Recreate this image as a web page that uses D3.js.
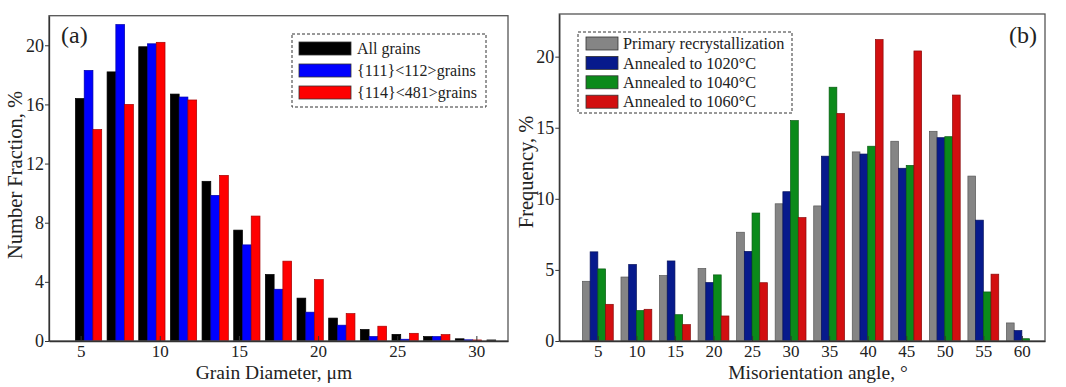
<!DOCTYPE html>
<html>
<head>
<meta charset="utf-8">
<script src="https://cdn.jsdelivr.net/npm/d3@7"></script>
<style>
  body { margin: 0; background: #fff; }
  svg text { font-family: "Liberation Serif", "Times New Roman", serif; fill: #222; }
  .axis path, .axis line { stroke: #333; }
</style>
</head>
<body>
<svg id="chart" width="1066" height="387"></svg>
<script>
// ---- panel (a) data ----
var grainBins = [5.5, 7.5, 9.5, 11.5, 13.5, 15.5, 17.5, 19.5, 21.5, 23.5, 25.5, 27.5, 29.5, 31.5];
var allGrains = [16.4, 18.2, 19.9, 16.7, 10.8, 7.5, 4.5, 2.9, 1.55, 0.78, 0.45, 0.3, 0.15, 0.07];
var grains111 = [18.3, 21.4, 20.1, 16.5, 9.85, 6.5, 3.5, 1.95, 1.07, 0.3, 0.12, 0.3, 0.08, 0];
var grains114 = [14.3, 16.0, 20.2, 16.3, 11.2, 8.45, 5.4, 4.15, 1.85, 1.0, 0.52, 0.43, 0.07, 0];
var seriesA = ["All grains", "{111}<112>grains", "{114}<481>grains"];
var colorsA = ["#000000", "#0000ff", "#ff0000"];
var ticksA_x = [5, 10, 15, 20, 25, 30];
var ticksA_y = [0, 4, 8, 12, 16, 20];

// ---- panel (b) data ----
var angles = [5, 10, 15, 20, 25, 30, 35, 40, 45, 50, 55, 60];
var primaryRecryst = [4.2, 4.5, 4.6, 5.1, 7.65, 9.65, 9.5, 13.3, 14.05, 14.75, 11.6, 1.27];
var annealed1020 = [6.27, 5.38, 5.63, 4.11, 6.3, 10.5, 13.0, 13.15, 12.15, 14.3, 8.5, 0.73];
var annealed1040 = [5.07, 2.14, 1.85, 4.65, 9.0, 15.5, 17.85, 13.7, 12.35, 14.37, 3.45, 0.16];
var annealed1060 = [2.58, 2.23, 1.15, 1.76, 4.1, 8.68, 16.0, 21.2, 20.4, 17.3, 4.7, 0];
var seriesB = ["Primary recrystallization", "Annealed to 1020\u00b0C", "Annealed to 1040\u00b0C", "Annealed to 1060\u00b0C"];
var colorsB = ["#858585", "#071a8c", "#0b8a1a", "#d20f10"];
var ticksB_y = [0, 5, 10, 15, 20];

var svg = d3.select("#chart");

function drawPanel(opt) {
    var g = svg.append("g");
    var x = d3.scaleLinear().domain(opt.xDomain).range([opt.left, opt.right]);
    var y = d3.scaleLinear().domain(opt.yDomain).range([opt.bottom, opt.top]);

    var clipId = "clip" + opt.id;
    svg.append("clipPath").attr("id", clipId)
        .append("rect")
        .attr("x", opt.left).attr("y", opt.top)
        .attr("width", opt.right - opt.left).attr("height", opt.bottom - opt.top);

    var nSeries = opt.series.length;
    var barW = opt.groupWidth / nSeries;
    var bars = g.append("g").attr("clip-path", "url(#" + clipId + ")");

    opt.values.forEach(function (vals, s) {
        bars.selectAll(".bar" + s)
            .data(vals)
            .enter().append("rect")
            .attr("class", "bar" + s)
            .attr("x", function (d, i) {
                return x(opt.cats[i] - opt.groupWidth / 2 + s * barW);
            })
            .attr("width", x(barW) - x(0))
            .attr("y", function (d) { return y(d); })
            .attr("height", function (d) { return y(0) - y(d); })
            .attr("fill", opt.colors[s])
            .attr("stroke", d3.color(opt.colors[s]).darker(1.2))
            .attr("stroke-width", 0.7);
    });

    // frame
    g.append("rect")
        .attr("x", opt.left).attr("y", opt.top)
        .attr("width", opt.right - opt.left).attr("height", opt.bottom - opt.top)
        .attr("fill", "none").attr("stroke", "#555").attr("stroke-width", 1.3);

    var xAxis = d3.axisBottom(x).tickValues(opt.xTicks)
        .tickSizeInner(-5).tickSizeOuter(0).tickPadding(4);
    var yAxis = d3.axisLeft(y).tickValues(opt.yTicks)
        .tickSizeInner(4).tickSizeOuter(0).tickPadding(1);

    var gx = g.append("g").attr("class", "axis")
        .attr("transform", "translate(0," + opt.bottom + ")")
        .call(xAxis);
    gx.select(".domain").attr("stroke-width", 1.3);
    gx.selectAll("text").style("font-size", "17px").attr("fill", "#222");

    var gy = g.append("g").attr("class", "axis")
        .attr("transform", "translate(" + opt.left + ",0)")
        .call(yAxis);
    gy.select(".domain").attr("stroke-width", 1.3);
    gy.selectAll("text").style("font-size", "18px").attr("fill", "#222");

    // axis titles
    g.append("text")
        .attr("x", opt.xTitleX).attr("y", 378.5)
        .style("text-anchor", "middle")
        .style("font-size", "19.5px")
        .text(opt.xTitle);

    g.append("text")
        .attr("transform", "translate(" + opt.yTitleX + "," + opt.yTitleY + ") rotate(-90)")
        .style("text-anchor", "middle")
        .style("font-size", "20.5px")
        .text(opt.yTitle);

    // panel label
    g.append("text")
        .attr("x", opt.labelX).attr("y", 43)
        .style("font-size", "24px")
        .text(opt.label);

    // legend
    var L = opt.legend;
    g.append("rect")
        .attr("x", L.x).attr("y", L.y)
        .attr("width", L.w).attr("height", L.h)
        .attr("fill", "#fff")
        .attr("stroke", "#333").attr("stroke-width", 1)
        .attr("stroke-dasharray", "3,2");

    var items = g.selectAll(".leg" + opt.id)
        .data(opt.series)
        .enter().append("g")
        .attr("class", "leg" + opt.id)
        .attr("transform", function (d, i) {
            return "translate(" + L.swX + "," + (L.firstY + i * L.step) + ")";
        });
    items.append("rect")
        .attr("x", 0).attr("y", -L.swH / 2)
        .attr("width", L.swW).attr("height", L.swH)
        .attr("fill", function (d, i) { return opt.colors[i]; })
        .attr("stroke", "#333").attr("stroke-width", 0.8);
    items.append("text")
        .attr("x", L.swW + L.gap).attr("y", 0)
        .attr("dy", "0.35em")
        .style("font-size", L.font)
        .text(function (d) { return d; });
}

drawPanel({
    id: "a",
    left: 49, right: 508, top: 15.7, bottom: 341,
    xDomain: [3, 32], yDomain: [0, 22],
    xTicks: ticksA_x, yTicks: ticksA_y,
    cats: grainBins,
    values: [allGrains, grains111, grains114],
    series: seriesA, colors: colorsA,
    groupWidth: 1.66,
    xTitle: "Grain Diameter, \u03bcm", xTitleX: 274,
    yTitle: "Number Fraction, %", yTitleX: 22, yTitleY: 175,
    label: "(a)", labelX: 61,
    legend: { x: 292, y: 34, w: 194, h: 73, swX: 299, swW: 52, swH: 13,
              firstY: 48.5, step: 22, gap: 6, font: "16px" }
});

drawPanel({
    id: "b",
    left: 559.3, right: 1045, top: 14, bottom: 341,
    xDomain: [0, 63], yDomain: [0, 23],
    xTicks: angles, yTicks: ticksB_y,
    cats: angles,
    values: [primaryRecryst, annealed1020, annealed1040, annealed1060],
    series: seriesB, colors: colorsB,
    groupWidth: 4,
    xTitle: "Misorientation angle, \u00b0", xTitleX: 818,
    yTitle: "Frequency, %", yTitleX: 533, yTitleY: 172,
    label: "(b)", labelX: 1009,
    legend: { x: 578, y: 32, w: 214, h: 81, swX: 586, swW: 32, swH: 13,
              firstY: 43.5, step: 19.4, gap: 5, font: "16.3px" }
});
</script>
</body>
</html>
